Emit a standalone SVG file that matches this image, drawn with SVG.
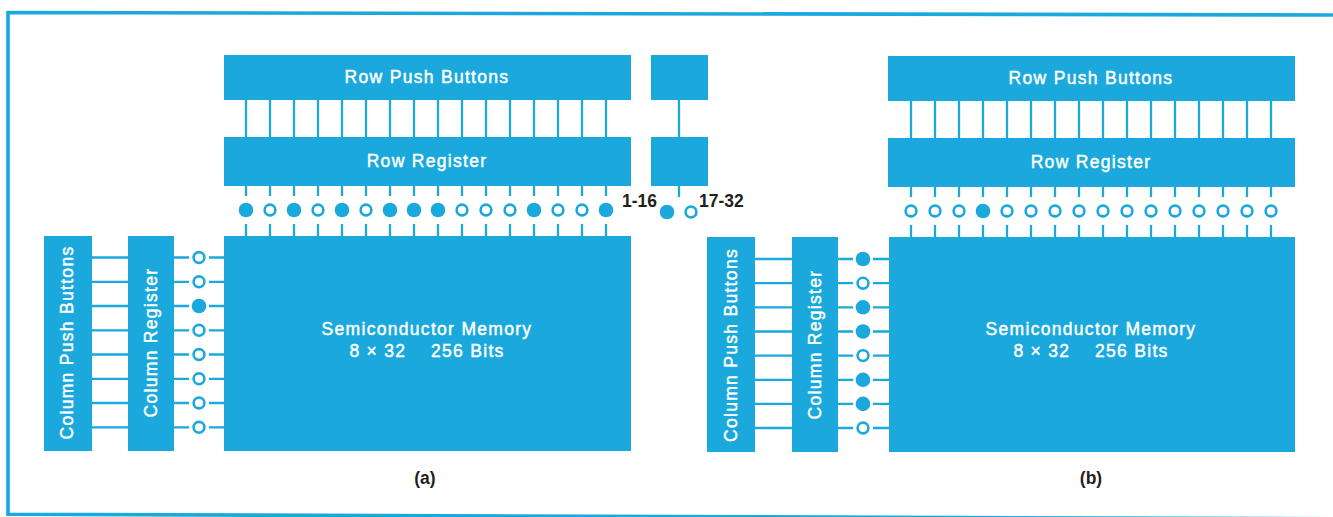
<svg xmlns="http://www.w3.org/2000/svg" width="1333" height="517" viewBox="0 0 1333 517">
<style>
.box{fill:#1ba9dd}
.ln{stroke:#1ba9dd;stroke-width:2.3;fill:none}
.frame{stroke:#1ba9dd;stroke-width:3.6;fill:none}
.on{fill:#1ba9dd}
.off{fill:#fff;stroke:#1ba9dd;stroke-width:2.6}
.lbl{font-family:"Liberation Sans",Arial,sans-serif;font-size:17.5px;letter-spacing:1.3px;fill:#fff;stroke:#fff;stroke-width:0.45px;text-anchor:middle}
.cap{font-family:"Liberation Sans",Arial,sans-serif;font-size:17.5px;font-weight:bold;fill:#231f20}
</style>
<defs>
<circle id="on" r="7.3" class="on"/>
<circle id="off" r="5.4" class="off"/>
</defs>
<rect width="1333" height="517" fill="#fff"/>
<path class="frame" d="M8 12.5L1333 15M8 11V516M6.5 514.3L1333 518.8"/>

<g id="connectors">
<path class="ln" d="M246 100V137M270 100V137M294 100V137M318 100V137M342 100V137M366 100V137M390 100V137M414 100V137M438 100V137M462 100V137M486 100V137M510 100V137M534 100V137M558 100V137M582 100V137M606 100V137"/>
<path class="ln" d="M246 186V196M270 186V196M294 186V196M318 186V196M342 186V196M366 186V196M390 186V196M414 186V196M438 186V196M462 186V196M486 186V196M510 186V196M534 186V196M558 186V196M582 186V196M606 186V196"/>
<path class="ln" d="M246 224V236M270 224V236M294 224V236M318 224V236M342 224V236M366 224V236M390 224V236M414 224V236M438 224V236M462 224V236M486 224V236M510 224V236M534 224V236M558 224V236M582 224V236M606 224V236"/>
<path class="ln" d="M679 100V137M679 186V197"/>
<path class="ln" d="M911 101V138M935 101V138M959 101V138M983 101V138M1007 101V138M1031 101V138M1055 101V138M1079 101V138M1103 101V138M1127 101V138M1151 101V138M1175 101V138M1199 101V138M1223 101V138M1247 101V138M1271 101V138"/>
<path class="ln" d="M911 187V197M935 187V197M959 187V197M983 187V197M1007 187V197M1031 187V197M1055 187V197M1079 187V197M1103 187V197M1127 187V197M1151 187V197M1175 187V197M1199 187V197M1223 187V197M1247 187V197M1271 187V197"/>
<path class="ln" d="M911 225V237M935 225V237M959 225V237M983 225V237M1007 225V237M1031 225V237M1055 225V237M1079 225V237M1103 225V237M1127 225V237M1151 225V237M1175 225V237M1199 225V237M1223 225V237M1247 225V237M1271 225V237"/>
<path class="ln" d="M92 257.5H128M92 281.8H128M92 306H128M92 330.3H128M92 354.5H128M92 378.8H128M92 403H128M92 427.3H128"/>
<path class="ln" d="M174 257.5H189M174 281.8H189M174 306H189M174 330.3H189M174 354.5H189M174 378.8H189M174 403H189M174 427.3H189"/>
<path class="ln" d="M209 257.5H224M209 281.8H224M209 306H224M209 330.3H224M209 354.5H224M209 378.8H224M209 403H224M209 427.3H224"/>
<path class="ln" d="M755 259H792M755 283.2H792M755 307.3H792M755 331.5H792M755 355.6H792M755 379.8H792M755 403.9H792M755 428H792"/>
<path class="ln" d="M838 259H853M838 283.2H853M838 307.3H853M838 331.5H853M838 355.6H853M838 379.8H853M838 403.9H853M838 428H853"/>
<path class="ln" d="M873 259H889M873 283.2H889M873 307.3H889M873 331.5H889M873 355.6H889M873 379.8H889M873 403.9H889M873 428H889"/>
</g>

<g id="row-push-buttons-a"><rect class="box" x="224" y="55" width="407" height="45"/><text class="lbl" x="427" y="83">Row Push Buttons</text></g>
<g id="row-register-a"><rect class="box" x="224" y="137" width="407" height="49"/><text class="lbl" x="427" y="167">Row Register</text></g>
<g id="row-push-buttons-17-32"><rect class="box" x="651" y="55" width="57" height="45"/></g>
<g id="row-register-17-32"><rect class="box" x="651" y="137" width="57" height="49"/></g>
<g id="memory-a"><rect class="box" x="224" y="236" width="407" height="215"/><text class="lbl" x="427" y="335">Semiconductor Memory</text><text class="lbl" x="427" y="357" xml:space="preserve">8 × 32    256 Bits</text></g>
<g id="column-push-buttons-a"><rect class="box" x="44" y="236" width="48" height="215"/><text class="lbl" transform="translate(67,342.5) rotate(-90)" y="6">Column Push Buttons</text></g>
<g id="column-register-a"><rect class="box" x="128" y="236" width="46" height="215"/><text class="lbl" transform="translate(150.5,342.5) rotate(-90)" y="6">Column Register</text></g>

<g id="row-bits-a">
<use href="#on" x="246" y="210"/><use href="#off" x="270" y="210"/><use href="#on" x="294" y="210"/><use href="#off" x="318" y="210"/>
<use href="#on" x="342" y="210"/><use href="#off" x="366" y="210"/><use href="#on" x="390" y="210"/><use href="#on" x="414" y="210"/>
<use href="#on" x="438" y="210"/><use href="#off" x="462" y="210"/><use href="#off" x="486" y="210"/><use href="#off" x="510" y="210"/>
<use href="#on" x="534" y="210"/><use href="#off" x="558" y="210"/><use href="#off" x="582" y="210"/><use href="#on" x="606" y="210"/>
</g>
<g id="row-select-a">
<text class="cap" x="622" y="207">1-16</text>
<use href="#on" x="667" y="212"/><use href="#off" x="691" y="212"/>
<text class="cap" x="699" y="207">17-32</text>
</g>
<g id="column-bits-a">
<use href="#off" x="199" y="257.5"/><use href="#off" x="199" y="281.8"/><use href="#on" x="199" y="306"/><use href="#off" x="199" y="330.3"/>
<use href="#off" x="199" y="354.5"/><use href="#off" x="199" y="378.8"/><use href="#off" x="199" y="403"/><use href="#off" x="199" y="427.3"/>
</g>
<text class="cap" x="425" y="484" text-anchor="middle">(a)</text>

<g id="row-push-buttons-b"><rect class="box" x="888" y="56" width="407" height="45"/><text class="lbl" x="1091" y="83.5">Row Push Buttons</text></g>
<g id="row-register-b"><rect class="box" x="888" y="138" width="407" height="49"/><text class="lbl" x="1091" y="167.5">Row Register</text></g>
<g id="memory-b"><rect class="box" x="889" y="237" width="406" height="215"/><text class="lbl" x="1091" y="335">Semiconductor Memory</text><text class="lbl" x="1091" y="357" xml:space="preserve">8 × 32    256 Bits</text></g>
<g id="column-push-buttons-b"><rect class="box" x="707" y="237" width="48" height="215"/><text class="lbl" transform="translate(730.5,345) rotate(-90)" y="6">Column Push Buttons</text></g>
<g id="column-register-b"><rect class="box" x="792" y="237" width="46" height="215"/><text class="lbl" transform="translate(814.5,344.5) rotate(-90)" y="6">Column Register</text></g>

<g id="row-bits-b">
<use href="#off" x="911" y="211"/><use href="#off" x="935" y="211"/><use href="#off" x="959" y="211"/><use href="#on" x="983" y="211"/>
<use href="#off" x="1007" y="211"/><use href="#off" x="1031" y="211"/><use href="#off" x="1055" y="211"/><use href="#off" x="1079" y="211"/>
<use href="#off" x="1103" y="211"/><use href="#off" x="1127" y="211"/><use href="#off" x="1151" y="211"/><use href="#off" x="1175" y="211"/>
<use href="#off" x="1199" y="211"/><use href="#off" x="1223" y="211"/><use href="#off" x="1247" y="211"/><use href="#off" x="1271" y="211"/>
</g>
<g id="column-bits-b">
<use href="#on" x="863" y="259"/><use href="#off" x="863" y="283.2"/><use href="#on" x="863" y="307.3"/><use href="#on" x="863" y="331.5"/>
<use href="#off" x="863" y="355.6"/><use href="#on" x="863" y="379.8"/><use href="#on" x="863" y="403.9"/><use href="#off" x="863" y="428"/>
</g>
<text class="cap" x="1091" y="484" text-anchor="middle">(b)</text>
</svg>
